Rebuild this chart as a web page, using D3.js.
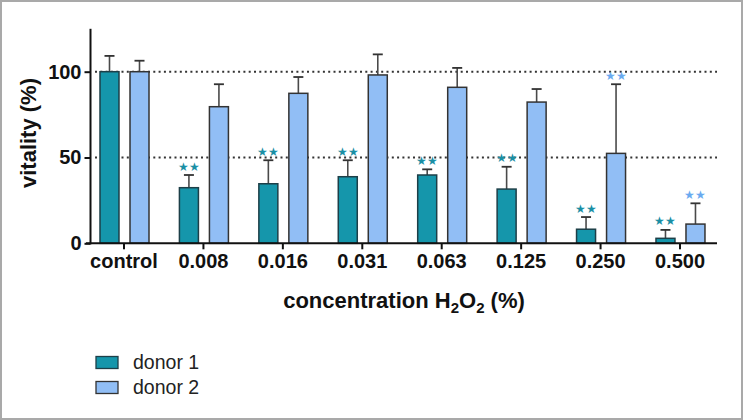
<!DOCTYPE html>
<html><head><meta charset="utf-8">
<script src="https://cdn.jsdelivr.net/npm/d3@7"></script>
<style>body{margin:0;background:#fff}svg{display:block;font-family:"Liberation Sans",Arial,sans-serif}</style>
</head><body><svg id="c" width="743" height="420"></svg>
<script>
const categories = ["control","0.008","0.016","0.031","0.063","0.125","0.250","0.500"];
const seriesNames = ["donor 1","donor 2"];
const donor1 = [100, 32.4, 34.7, 38.8, 39.8, 31.6, 8.2, 2.9];
const donor1Err = [9.2, 7.4, 13.7, 9.6, 3.3, 13.0, 7.1, 4.9];
const donor2 = [100, 79.6, 87.4, 98.1, 90.9, 82.3, 52.4, 11.2];
const donor2Err = [6.4, 13.1, 9.5, 12.0, 11.3, 7.6, 40.3, 12.1];
const donor1Sig = ["", "**", "**", "**", "**", "**", "**", "**"];
const donor2Sig = ["", "", "", "", "", "", "**", "**"];
const yTicks = [0, 50, 100];
const refLines = [50, 100];

const colors = ["#1596ab", "#91bef5"];
const strokes = ["#1d3f48", "#333"];
const sigColors = ["#1a8fa5", "#6aaaf0"];

const svg = d3.select("#c");
svg.append("rect").attr("x",1).attr("y",1).attr("width",741).attr("height",418)
  .attr("fill","#fff").attr("stroke","#a9a9a9").attr("stroke-width",2);

const y = d3.scaleLinear().domain([0,125]).range([243.3, 28.8]);
const x = d3.scaleBand().domain(categories).range([84.3, 719.7]).paddingInner(0);
const x1 = d3.scaleBand().domain(seriesNames).range([15.7, 64.7]).paddingInner(0.367);

// reference dotted lines
svg.append("g").selectAll("line").data(refLines).join("line")
  .attr("x1",95).attr("x2",717).attr("y1",d=>y(d)).attr("y2",d=>y(d))
  .attr("stroke","#333").attr("stroke-width",2).attr("stroke-dasharray","2,3.3");

const data = categories.map((c,i)=>({c, vals:[
  {s:seriesNames[0], v:donor1[i], e:donor1Err[i], sig:donor1Sig[i], k:0},
  {s:seriesNames[1], v:donor2[i], e:donor2Err[i], sig:donor2Sig[i], k:1}]}));

const g = svg.append("g").selectAll("g").data(data).join("g")
  .attr("transform", d=>`translate(${x(d.c)},0)`);

const items = g.selectAll("g").data(d=>d.vals).join("g");
// error bars
items.append("line").attr("x1",d=>x1(d.s)+x1.bandwidth()/2).attr("x2",d=>x1(d.s)+x1.bandwidth()/2)
  .attr("y1",d=>y(d.v)).attr("y2",d=>y(d.v+d.e)).attr("stroke","#4a4a4a").attr("stroke-width",1.6);
items.append("line").attr("x1",d=>x1(d.s)+x1.bandwidth()/2-5).attr("x2",d=>x1(d.s)+x1.bandwidth()/2+5)
  .attr("y1",d=>y(d.v+d.e)).attr("y2",d=>y(d.v+d.e)).attr("stroke","#333").attr("stroke-width",1.8);
items.append("rect").attr("x",d=>x1(d.s)).attr("width",x1.bandwidth())
  .attr("y",d=>y(d.v)).attr("height",d=>y(0)-y(d.v))
  .attr("fill",d=>colors[d.k]).attr("stroke",d=>strokes[d.k]).attr("stroke-width",1.5);
items.filter(d=>d.sig).append("text")
  .attr("x",d=>x1(d.s)+x1.bandwidth()/2).attr("y",d=>y(d.v+d.e)-4.5)
  .attr("text-anchor","middle").attr("font-size",12).attr("fill",d=>sigColors[d.k])
  .text(d=>d.sig.replace(/\*/g,"\u2605"));

// axes
const yAxis = svg.append("g").attr("transform","translate(90.5,0)")
  .call(d3.axisLeft(y).tickValues(yTicks).tickSize(6).tickPadding(3));
yAxis.select(".domain").remove();
yAxis.selectAll(".tick line").attr("stroke","#111").attr("stroke-width",2);
yAxis.selectAll("text").attr("font-size",20).attr("font-weight","bold").attr("fill","#111")
  .attr("font-family","'Liberation Sans',Arial,sans-serif");
svg.append("line").attr("x1",90.5).attr("x2",90.5).attr("y1",y(125)).attr("y2",y(0)+1)
  .attr("stroke","#111").attr("stroke-width",2);

const xAxis = svg.append("g").attr("transform",`translate(0,${y(0)})`)
  .call(d3.axisBottom(x).tickSize(6).tickPadding(5));
xAxis.select(".domain").remove();
xAxis.selectAll(".tick line").attr("stroke","#111").attr("stroke-width",2);
xAxis.selectAll("text").attr("font-size",20).attr("font-weight","bold").attr("fill","#111")
  .attr("font-family","'Liberation Sans',Arial,sans-serif");
svg.append("line").attr("x1",86).attr("x2",717).attr("y1",y(0)).attr("y2",y(0))
  .attr("stroke","#111").attr("stroke-width",2);

// axis titles
svg.append("text").attr("transform","translate(36,133) rotate(-90)")
  .attr("text-anchor","middle").attr("font-size",22).attr("font-weight","bold").attr("fill","#111")
  .text("vitality (%)");
const xt = svg.append("text").attr("x",404).attr("y",308).attr("text-anchor","middle")
  .attr("font-size",22).attr("font-weight","bold").attr("fill","#111");
xt.append("tspan").text("concentration H");
xt.append("tspan").attr("font-size",15).attr("dy",5).text("2");
xt.append("tspan").attr("dy",-5).text("O");
xt.append("tspan").attr("font-size",15).attr("dy",5).text("2");
xt.append("tspan").attr("dy",-5).text(" (%)");

// legend
const lg = svg.append("g").selectAll("g").data(seriesNames).join("g")
  .attr("transform",(d,i)=>`translate(96,${356.5+i*25})`);
lg.append("rect").attr("width",22).attr("height",12)
  .attr("fill",(d,i)=>colors[i]).attr("stroke",(d,i)=>strokes[i]).attr("stroke-width",1.3);
lg.append("text").attr("x",37).attr("y",12.5).attr("font-size",19.5).attr("fill","#222").text(d=>d);
</script></body></html>
